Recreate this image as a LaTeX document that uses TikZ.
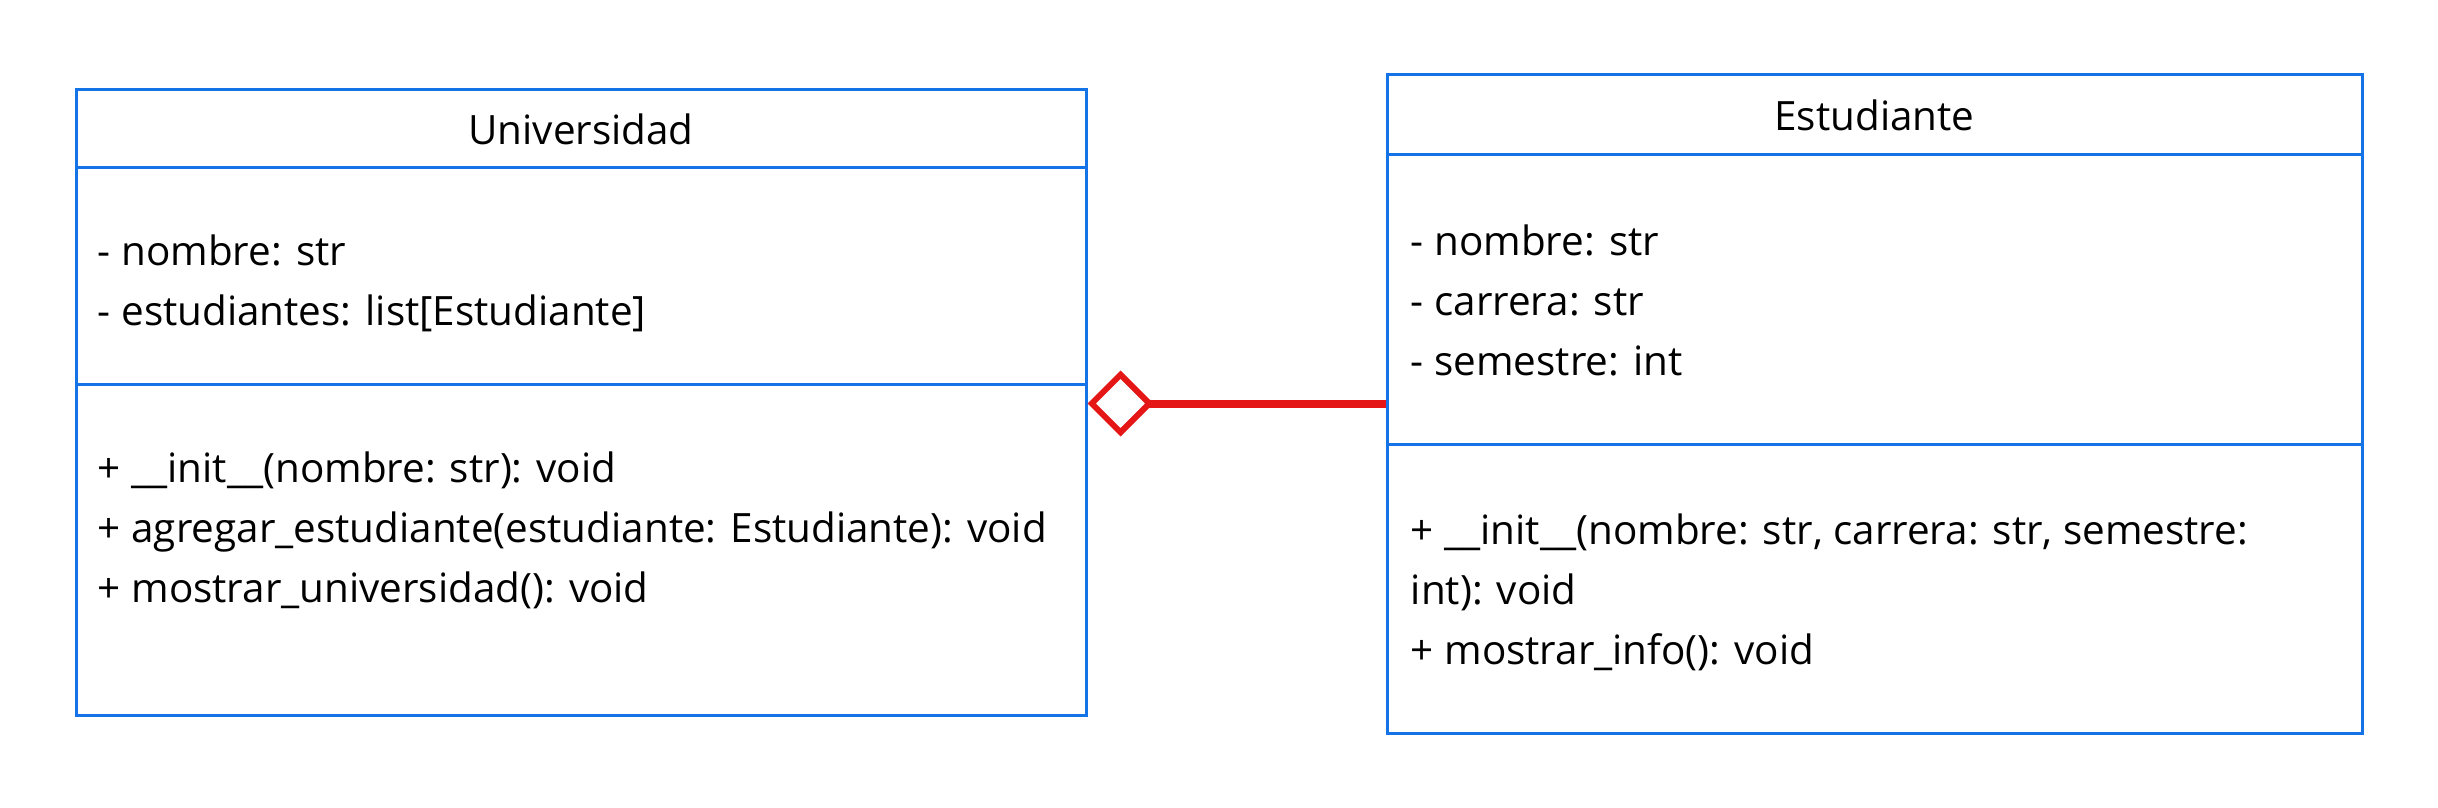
\documentclass[tikz,border=0pt]{standalone}
\usepackage{fontspec}
\setmainfont{Open Sans}
\usetikzlibrary{positioning,arrows.meta}
\definecolor{umlblue}{RGB}{20,115,230}
\definecolor{aggred}{RGB}{228,22,22}
\tikzstyle{classname}=[rectangle,
	draw=umlblue,
	line width=1.5pt,
	font=\fontsize{20.2}{30}\selectfont]
\tikzstyle{compartment}=[rectangle,
	draw=umlblue,
	line width=1.5pt]
\tikzstyle{members}=[align=left,
	inner sep=0pt,
	font=\fontsize{20.2}{30}\selectfont]
\tikzstyle{aggregation}=[draw=aggred,
	line width=4pt,
	-{Diamond[open,length=33pt,width=33pt,line width=3pt]}]

\begin{document}
\begin{tikzpicture}[x=0.5pt,y=-0.5pt]
	\useasboundingbox (0,0) rectangle (2438,808);
	% Universidad
	\node (univ) [classname, minimum width=505pt, minimum height=39pt] at (581,129) {Universidad};
	\node (univattr) [compartment, below of=univ, node distance=73.5pt, minimum width=505pt, minimum height=108pt] {};
	\node (univops) [compartment, below of=univattr, node distance=136.75pt, minimum width=505pt, minimum height=165.5pt] {};
	\node (univattrtext) [members, below right=34pt and 11.5pt of univattr.north west] {- nombre: str\\- estudiantes: list[Estudiante]};
	\node (univopstext) [members, below right=34.5pt and 11.5pt of univops.north west] {+ \_\_init\_\_(nombre: str): void\\+ agregar\_estudiante(estudiante: Estudiante): void\\+ mostrar\_universidad(): void};

	% Estudiante
	\node (estu) [classname, minimum width=487.5pt, minimum height=40pt] at (1874.5,115) {Estudiante};
	\node (estuattr) [compartment, below of=estu, node distance=92.25pt, minimum width=487.5pt, minimum height=144.5pt] {};
	\node (estuops) [compartment, below of=estuattr, node distance=144.5pt, minimum width=487.5pt, minimum height=144.5pt] {};
	\node (estuattrtext) [members, below right=35.7pt and 12.5pt of estuattr.north west] {- nombre: str\\- carrera: str\\- semestre: int};
	\node (estuopstext) [members, below right=35.7pt and 12.5pt of estuops.north west] {+ \_\_init\_\_(nombre: str, carrera: str, semestre:\\int): void\\+ mostrar\_info(): void};

	\draw[aggregation] ([yshift=21pt]estuattr.south west) -- ([yshift=21pt]estuattr.south west -| univops.east);
\end{tikzpicture}
\end{document}
